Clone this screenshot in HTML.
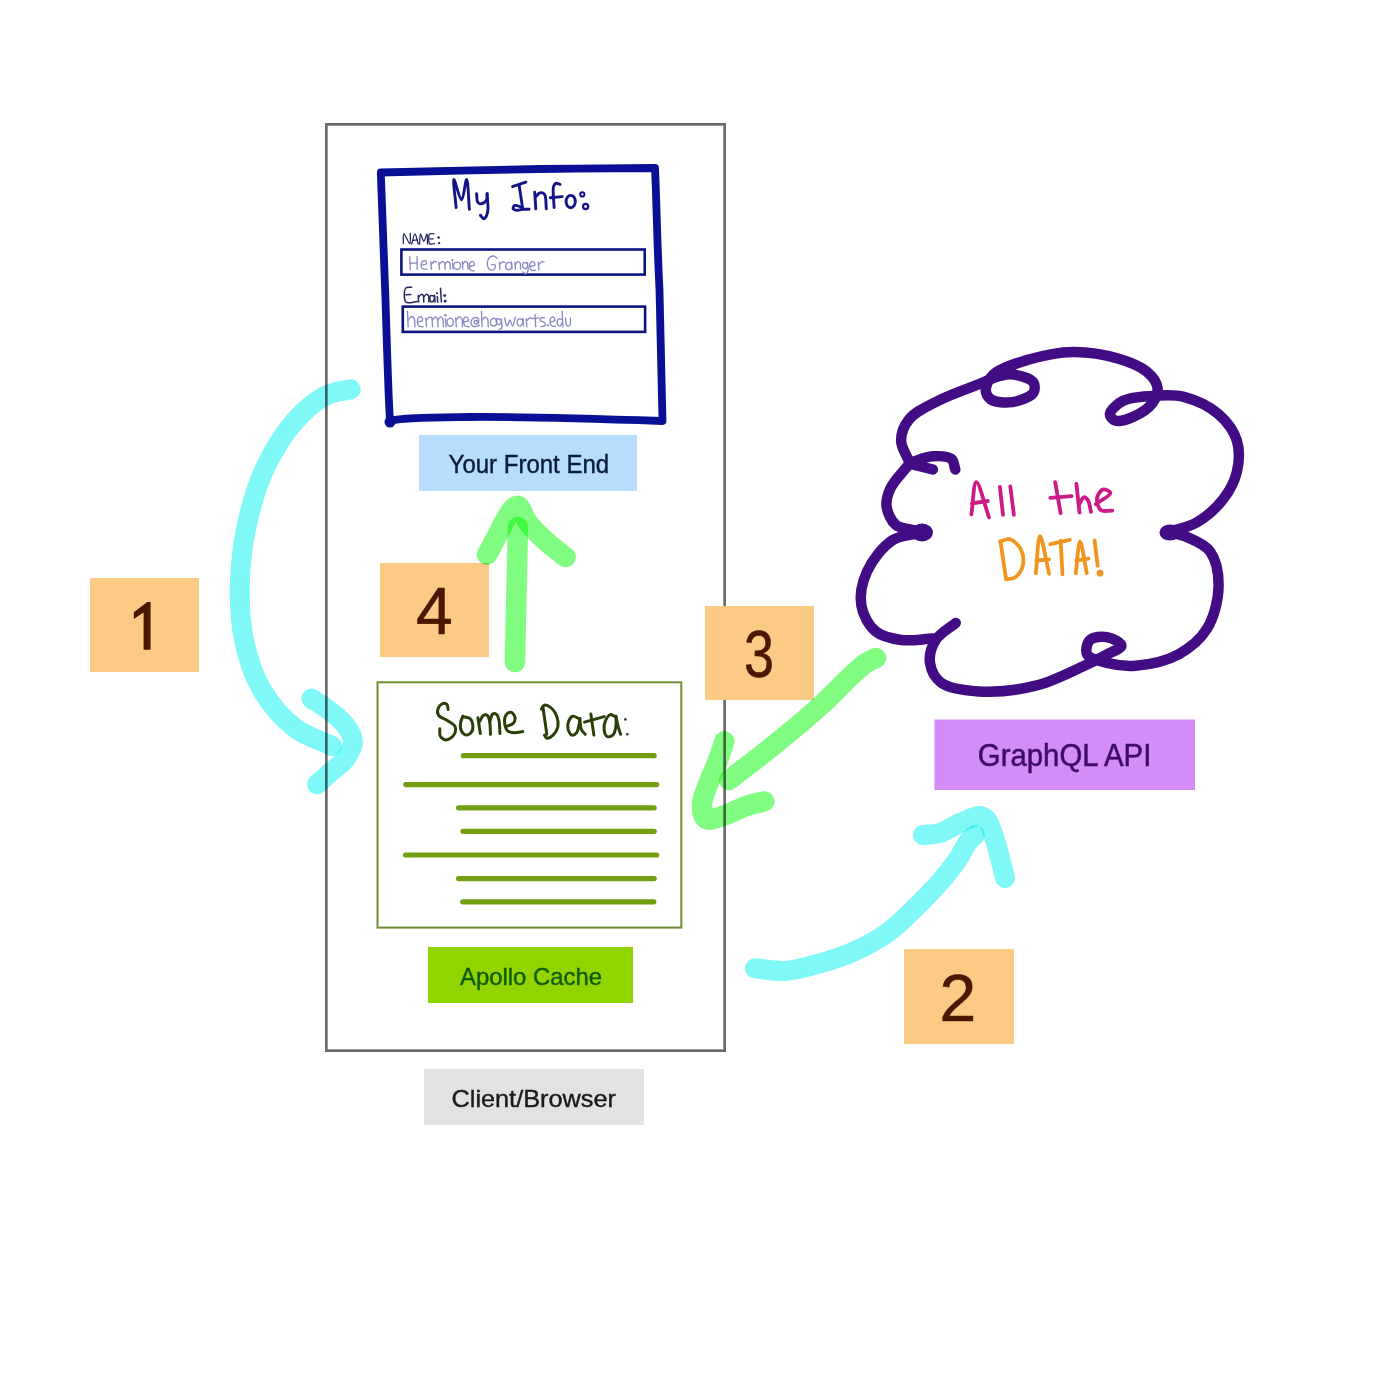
<!DOCTYPE html>
<html>
<head>
<meta charset="utf-8">
<style>
html,body{margin:0;padding:0;background:#ffffff;}
body{width:1400px;height:1400px;overflow:hidden;}
svg{display:block;}
text{font-family:"Liberation Sans", sans-serif;}
</style>
</head>
<body>
<svg width="1400" height="1400" viewBox="0 0 1400 1400">
<rect x="0" y="0" width="1400" height="1400" fill="#ffffff"/>
<rect x="326.35" y="124.35" width="398.3" height="926.3" fill="none" stroke="#6b6b6b" stroke-width="2.7"/>

<rect x="419" y="435" width="218" height="56" fill="#b8dcfc"/>
<text x="448.6" y="472.9" font-size="25" fill="#0b1a3f" stroke="#0b1a3f" stroke-width="0.4" textLength="160.5" lengthAdjust="spacingAndGlyphs">Your Front End</text>
<rect x="428" y="947" width="205" height="56" fill="#92d400"/>
<text x="460" y="984.7" font-size="24" fill="#0e5c0e" stroke="#0e5c0e" stroke-width="0.4" textLength="142" lengthAdjust="spacingAndGlyphs">Apollo Cache</text>
<rect x="424" y="1069" width="220" height="56" fill="#e2e2e2"/>
<text x="451.5" y="1106.8" font-size="24.5" fill="#1a1a1a" stroke="#1a1a1a" stroke-width="0.4" textLength="164.4" lengthAdjust="spacingAndGlyphs">Client/Browser</text>
<rect x="934.5" y="719.5" width="260.5" height="70.5" fill="#d38cf8"/>
<text x="977.8" y="766.1" font-size="32" fill="#3e0a66" stroke="#3e0a66" stroke-width="0.5" textLength="173.5" lengthAdjust="spacingAndGlyphs">GraphQL API</text>


<rect x="90" y="578" width="109" height="94" fill="#fbcb86"/>
<rect x="380" y="563" width="109" height="94" fill="#fbcb86"/>
<rect x="705" y="606" width="109" height="94" fill="#fbcb86"/>
<rect x="904" y="949" width="110" height="95" fill="#fbcb86"/>
<path d="M143.6,649.7 L150.6,649.7 L150.6,602.1 L147.2,602.1 L133.8,612.3 L133.8,619 L143.6,612.6 Z" fill="#4a1800"/>
<g font-size="66" fill="#4a1800" stroke="#4a1800" stroke-width="0.6">
<text x="416" y="634">4</text>
<text x="744" y="677" textLength="30" lengthAdjust="spacingAndGlyphs">3</text>
<text x="939.5" y="1020.9">2</text>
</g>


<rect x="377.5" y="682.3" width="303.8" height="245.3" fill="none" stroke="#6f8f2f" stroke-width="2"/>
<g stroke="#72a012" stroke-width="5.2" stroke-linecap="round">
<line x1="463.3" y1="755.7" x2="654.2" y2="755.7"/>
<line x1="405.8" y1="784.6" x2="656.7" y2="784.6"/>
<line x1="458.6" y1="807.8" x2="654.2" y2="807.8"/>
<line x1="463" y1="831.3" x2="654.2" y2="831.3"/>
<line x1="405.5" y1="855" x2="656.7" y2="855"/>
<line x1="458.6" y1="878.6" x2="654.2" y2="878.6"/>
<line x1="462.7" y1="901.8" x2="653.8" y2="901.8"/>
</g>

<g>
<path d="M448.1,709.5 C447.7,707.8 447.9,705.4 446.9,704.4 C446.0,703.5 443.9,703.1 442.6,703.6 C440.9,704.2 438.5,707.1 437.9,709.1 C437.3,711.0 437.4,713.6 438.6,715.4 C440.1,717.8 445.2,719.0 448.1,720.9 C450.7,722.6 454.0,724.2 455.1,726.4 C456.0,728.2 455.8,730.8 455.1,732.7 C454.3,734.7 452.2,737.0 450.4,738.2 C448.8,739.3 446.6,740.1 444.9,739.8 C443.2,739.4 441.1,737.6 440.2,735.9 C439.3,734.0 439.9,731.2 439.8,728.8" fill="none" stroke="#2a4008" stroke-width="3.0" stroke-linecap="round" stroke-linejoin="round"/>
<path d="M463.0,716.2 C462.2,718.3 460.9,720.2 460.6,722.5 C460.2,725.1 460.3,728.9 461.4,731.1 C462.4,732.9 464.4,734.9 466.1,735.1 C467.8,735.3 470.5,733.5 471.6,731.9 C472.8,730.2 473.1,727.1 472.8,724.9 C472.5,722.7 471.6,719.9 470.1,718.6 C468.7,717.4 466.0,717.4 464.6,717.0 C463.7,716.8 463.2,716.7 462.5,716.5" fill="none" stroke="#2a4008" stroke-width="3.0" stroke-linecap="round" stroke-linejoin="round"/>
<path d="M477.9,717.8 L480.3,733.5" fill="none" stroke="#2a4008" stroke-width="3.0" stroke-linecap="round" stroke-linejoin="round"/>
<path d="M479.5,721.7 C480.8,719.6 481.8,716.3 483.4,715.4 C484.6,714.7 486.4,714.7 487.4,715.4 C488.7,716.3 489.2,719.2 489.7,721.7 C490.4,725.1 490.2,730.1 490.5,734.3" fill="none" stroke="#2a4008" stroke-width="3.0" stroke-linecap="round" stroke-linejoin="round"/>
<path d="M489.7,721.7 C490.8,719.1 491.3,714.8 492.9,713.9 C494.0,713.3 495.8,713.8 496.8,714.6 C498.1,715.7 498.6,718.4 499.1,720.9 C499.8,724.3 499.6,729.3 499.9,733.5" fill="none" stroke="#2a4008" stroke-width="3.0" stroke-linecap="round" stroke-linejoin="round"/>
<path d="M506.2,726.4 C508.6,725.4 511.9,725.0 513.3,723.3 C514.6,721.8 515.3,718.9 514.9,717.0 C514.5,715.2 512.5,712.6 511.0,712.3 C509.6,712.0 507.3,713.2 506.2,714.6 C504.9,716.3 504.4,719.8 504.6,722.5 C504.8,725.3 505.9,729.4 507.8,731.1 C509.5,732.6 512.5,732.6 514.9,732.7 C517.4,732.8 520.1,731.9 522.7,731.5" fill="none" stroke="#2a4008" stroke-width="3.0" stroke-linecap="round" stroke-linejoin="round"/>
<path d="M542.9,706.8 L546.8,734.3" fill="none" stroke="#2a4008" stroke-width="3.0" stroke-linecap="round" stroke-linejoin="round"/>
<path d="M541.3,709.1 C542.3,707.8 543.0,705.6 544.4,705.2 C546.0,704.8 548.8,706.1 550.7,707.6 C553.2,709.5 555.8,713.6 557.0,717.0 C558.1,720.2 558.5,724.1 557.8,727.2 C557.1,730.1 555.1,733.2 553.1,735.1 C551.3,736.7 548.3,738.5 546.8,738.2 C545.7,737.9 545.2,736.1 544.4,735.1" fill="none" stroke="#2a4008" stroke-width="3.0" stroke-linecap="round" stroke-linejoin="round"/>
<path d="M579.0,718.6 C576.9,717.8 574.4,715.7 572.7,716.2 C571.1,716.6 569.6,719.0 568.8,720.9 C567.9,723.1 567.4,726.4 568.0,728.8 C568.5,731.1 570.3,734.7 571.9,735.1 C573.3,735.5 575.4,734.1 576.6,732.7 C578.0,731.0 578.5,727.4 579.0,724.9 C579.5,722.7 579.5,720.7 579.8,718.6" fill="none" stroke="#2a4008" stroke-width="3.0" stroke-linecap="round" stroke-linejoin="round"/>
<path d="M579.8,718.6 C580.3,722.3 580.2,726.8 581.4,729.6 C582.3,731.7 584.0,732.7 585.3,734.3" fill="none" stroke="#2a4008" stroke-width="3.0" stroke-linecap="round" stroke-linejoin="round"/>
<path d="M590.8,713.9 L593.9,735.1" fill="none" stroke="#2a4008" stroke-width="3.0" stroke-linecap="round" stroke-linejoin="round"/>
<path d="M584.5,722.1 L604.1,716.6" fill="none" stroke="#2a4008" stroke-width="3.0" stroke-linecap="round" stroke-linejoin="round"/>
<path d="M614.4,716.2 C613.1,715.7 611.7,714.3 610.4,714.6 C608.7,715.0 606.8,717.8 605.7,720.1 C604.5,722.7 603.7,726.7 604.1,729.6 C604.4,732.2 605.7,735.8 607.3,736.6 C608.7,737.3 611.4,736.4 612.8,735.1 C614.6,733.5 615.4,729.5 615.9,726.4 C616.5,723.2 615.9,719.6 615.9,716.2" fill="none" stroke="#2a4008" stroke-width="3.0" stroke-linecap="round" stroke-linejoin="round"/>
<path d="M615.9,716.2 C616.7,719.9 617.4,724.0 618.3,727.2 C619.0,729.8 619.8,731.9 620.6,734.3" fill="none" stroke="#2a4008" stroke-width="3.0" stroke-linecap="round" stroke-linejoin="round"/>
<circle cx="625.4" cy="719.4" r="1.3" fill="#2a4008"/><circle cx="627.3" cy="734.3" r="1.3" fill="#2a4008"/>
</g>
<path d="M380.8,172.5 C420,171.5 500,169.5 540,169 S630,168 655,168 C656.5,200 657,240 659.5,290 C660.5,330 661,370 662.5,421 C600,419 520,416.5 470,417 C430,417.5 400,417.5 390,421 C388.5,400 387,350 385.5,300 C384,250 382,200 380.8,172.5 Z" fill="none" stroke="#0a1096" stroke-width="7.8" stroke-linejoin="round"/>
<circle cx="390" cy="422" r="5.5" fill="#0a1096"/>
<rect x="401.4" y="249.5" width="243.3" height="25.1" fill="none" stroke="#0c1480" stroke-width="2.6"/>
<rect x="402.8" y="306.6" width="242.3" height="25.3" fill="none" stroke="#0c1480" stroke-width="2.6"/>
<g transform="translate(395,225) scale(0.09285)" fill="none" stroke="#262660" stroke-width="14.00" stroke-linecap="round" stroke-linejoin="round">
<path d="M90.0,200.0 C91.7,165.0 84.5,97.7 95.0,95.0 C106.3,92.1 148.6,203.0 160.0,200.0 C170.8,197.2 163.3,126.7 165.0,90.0"/>
<path d="M180.0,205.0 C191.7,168.3 203.3,95.0 215.0,95.0 C226.7,95.0 238.3,168.3 250.0,205.0"/>
<path d="M195.0,165.0 L240.0,160.0"/>
<path d="M265.0,205.0 C268.3,168.3 266.5,96.4 275.0,95.0 C282.6,93.8 298.3,175.0 310.0,175.0 C321.7,175.0 338.1,93.7 345.0,95.0 C352.7,96.4 348.3,168.3 350.0,205.0"/>
<path d="M420.0,95.0 C404.0,96.0 381.3,87.8 372.0,98.0 C358.1,113.2 360.2,191.9 375.0,205.0 C385.2,213.9 408.3,201.7 425.0,200.0"/>
<path d="M375.0,150.0 L410.0,150.0"/>
<circle cx="470" cy="135" r="13" fill="#262660" stroke="none"/>
<circle cx="475" cy="195" r="13" fill="#262660" stroke="none"/>
</g>
<g transform="translate(395,225) scale(0.09285)" fill="none" stroke="#262660" stroke-width="16.16" stroke-linecap="round" stroke-linejoin="round">
<path d="M180.0,670.0 C158.3,673.3 127.8,664.8 115.0,680.0 C95.7,702.9 93.8,807.3 118.0,830.0 C139.8,850.5 199.3,826.7 240.0,825.0"/>
<path d="M118.0,750.0 L170.0,748.0"/>
<path d="M250.0,760.0 L255.0,830.0"/>
<path d="M255.0,775.0 C265.0,765.0 275.7,745.7 285.0,745.0 C292.1,744.5 300.5,751.7 305.0,760.0 C312.6,774.0 308.3,806.7 310.0,830.0"/>
<path d="M310.0,775.0 C320.0,765.0 330.7,745.7 340.0,745.0 C347.1,744.5 355.5,751.7 360.0,760.0 C367.6,774.0 363.3,806.7 365.0,830.0"/>
<path d="M420.0,765.0 C408.3,763.3 392.5,754.9 385.0,760.0 C376.9,765.5 372.9,788.0 375.0,800.0 C376.9,811.2 387.2,828.8 395.0,830.0 C402.3,831.1 414.8,819.6 420.0,810.0 C426.5,798.0 423.3,776.7 425.0,760.0"/>
<path d="M425.0,760.0 L432.0,830.0"/>
<path d="M455.0,770.0 L460.0,830.0"/>
<path d="M490.0,680.0 L500.0,830.0"/>
<circle cx="452" cy="735" r="12" fill="#262660" stroke="none"/>
<circle cx="535" cy="760" r="15" fill="#262660" stroke="none"/>
<circle cx="540" cy="820" r="15" fill="#262660" stroke="none"/>
</g>
<g transform="translate(400,248) scale(0.11429)" fill="none" stroke="#8a8ac4" stroke-width="11.81" stroke-linecap="round" stroke-linejoin="round">
<path d="M85.0,75.0 L90.0,190.0"/>
<path d="M150.0,75.0 L150.0,185.0"/>
<path d="M90.0,135.0 L150.0,130.0"/>
<path d="M185.0,150.0 C200.0,146.7 224.9,147.8 230.0,140.0 C233.8,134.2 230.1,119.1 225.0,115.0 C220.0,110.9 206.5,111.0 200.0,115.0 C192.5,119.6 186.0,134.4 185.0,145.0 C184.0,156.0 187.1,173.2 195.0,180.0 C203.3,187.1 221.7,183.3 235.0,185.0"/>
<path d="M270.0,120.0 L275.0,185.0"/>
<path d="M275.0,140.0 C283.3,132.7 291.5,120.7 300.0,118.0 C306.6,115.9 313.3,119.3 320.0,120.0"/>
<path d="M340.0,125.0 L345.0,185.0"/>
<path d="M345.0,140.0 C353.3,132.7 361.9,118.7 370.0,118.0 C376.8,117.4 385.5,122.9 390.0,130.0 C396.9,141.0 393.3,166.7 395.0,185.0"/>
<path d="M395.0,140.0 C401.7,132.7 407.9,119.0 415.0,118.0 C421.3,117.1 430.5,122.9 435.0,130.0 C441.9,141.0 438.3,166.7 440.0,185.0"/>
<path d="M460.0,130.0 L465.0,185.0"/>
<path d="M500.0,123.0 C491.7,127.0 479.5,127.8 475.0,135.0 C469.5,143.7 469.6,166.1 475.0,175.0 C479.5,182.5 491.7,188.0 500.0,188.0 C508.3,188.0 520.5,182.5 525.0,175.0 C530.4,166.1 530.5,143.7 525.0,135.0 C520.5,127.8 508.3,127.0 500.0,123.0"/>
<path d="M545.0,120.0 L550.0,185.0"/>
<path d="M550.0,140.0 C556.7,132.7 562.9,119.0 570.0,118.0 C576.3,117.1 585.5,122.9 590.0,130.0 C596.9,141.0 593.3,166.7 595.0,185.0"/>
<path d="M610.0,160.0 C623.3,156.7 645.8,157.6 650.0,150.0 C653.7,143.3 646.5,123.8 640.0,120.0 C634.2,116.6 620.8,119.6 615.0,125.0 C608.1,131.4 604.3,148.5 605.0,160.0 C605.7,171.8 611.7,188.5 620.0,195.0 C627.4,200.8 640.0,198.3 650.0,200.0"/>
<path d="M850.0,90.0 C840.0,83.3 831.1,71.3 820.0,70.0 C807.9,68.6 789.2,75.0 780.0,85.0 C769.4,96.6 764.5,122.7 765.0,140.0 C765.4,155.8 770.1,176.9 780.0,185.0 C789.1,192.5 810.8,195.5 820.0,190.0 C829.4,184.3 839.3,157.3 835.0,150.0 C831.1,143.3 811.7,146.7 800.0,145.0"/>
<path d="M870.0,125.0 L875.0,185.0"/>
<path d="M875.0,140.0 C883.3,133.3 892.4,121.4 900.0,120.0 C905.4,119.0 910.0,123.3 915.0,125.0"/>
<path d="M970.0,130.0 C958.3,130.0 942.5,124.1 935.0,130.0 C926.8,136.4 921.5,159.7 925.0,170.0 C928.1,179.0 941.7,190.0 950.0,190.0 C958.3,190.0 970.5,179.4 975.0,170.0 C980.4,158.8 975.0,140.0 975.0,125.0"/>
<path d="M975.0,125.0 L980.0,185.0"/>
<path d="M1005.0,125.0 L1010.0,185.0"/>
<path d="M1010.0,145.0 C1016.7,136.7 1022.6,121.6 1030.0,120.0 C1036.2,118.6 1045.5,123.4 1050.0,130.0 C1057.1,140.3 1053.3,166.7 1055.0,185.0"/>
<path d="M1110.0,130.0 C1100.0,130.0 1085.9,124.8 1080.0,130.0 C1073.6,135.6 1071.0,156.6 1075.0,165.0 C1078.6,172.7 1093.2,181.3 1100.0,180.0 C1106.3,178.8 1112.4,167.8 1115.0,160.0 C1117.9,151.4 1115.0,140.0 1115.0,130.0"/>
<path d="M1115.0,130.0 C1116.7,153.3 1125.2,183.2 1120.0,200.0 C1116.5,211.3 1107.7,223.6 1100.0,225.0 C1092.6,226.3 1083.3,215.0 1075.0,210.0"/>
<path d="M1140.0,160.0 C1153.3,156.7 1175.8,157.6 1180.0,150.0 C1183.7,143.3 1176.5,123.8 1170.0,120.0 C1164.2,116.6 1150.8,119.6 1145.0,125.0 C1138.1,131.4 1134.3,148.5 1135.0,160.0 C1135.7,171.8 1141.3,189.3 1150.0,195.0 C1158.3,200.5 1173.3,195.0 1185.0,195.0"/>
<path d="M1210.0,125.0 L1215.0,190.0"/>
<path d="M1215.0,145.0 C1223.3,136.7 1231.4,123.1 1240.0,120.0 C1246.5,117.7 1253.3,121.3 1260.0,122.0"/>
<circle cx="458" cy="105" r="10" fill="#8a8ac4" stroke="none"/>
</g>
<g transform="translate(400,305) scale(0.13572)" fill="none" stroke="#8a8ac4" stroke-width="9.95" stroke-linecap="round" stroke-linejoin="round">
<path d="M55.0,45.0 L60.0,160.0"/>
<path d="M60.0,110.0 C68.3,101.7 76.9,85.6 85.0,85.0 C91.8,84.5 100.5,91.9 105.0,100.0 C111.9,112.6 108.3,140.0 110.0,160.0"/>
<path d="M130.0,125.0 C141.7,121.7 160.8,121.9 165.0,115.0 C168.5,109.2 164.8,93.9 160.0,90.0 C155.8,86.5 145.1,86.5 140.0,90.0 C133.5,94.4 128.3,109.6 128.0,120.0 C127.7,131.2 132.3,148.5 140.0,155.0 C147.0,160.9 160.0,158.3 170.0,160.0"/>
<path d="M190.0,95.0 L195.0,160.0"/>
<path d="M195.0,110.0 C201.7,103.3 208.2,92.3 215.0,90.0 C219.9,88.3 225.0,91.3 230.0,92.0"/>
<path d="M235.0,95.0 L240.0,160.0"/>
<path d="M240.0,110.0 C246.7,102.7 253.6,88.5 260.0,88.0 C265.2,87.6 271.5,93.4 275.0,100.0 C281.3,111.7 278.3,140.0 280.0,160.0"/>
<path d="M280.0,110.0 C286.7,102.7 293.6,88.5 300.0,88.0 C305.2,87.6 311.5,93.4 315.0,100.0 C321.3,111.7 318.3,140.0 320.0,160.0"/>
<path d="M335.0,100.0 L340.0,160.0"/>
<path d="M370.0,95.0 C363.3,100.0 353.6,102.8 350.0,110.0 C345.7,118.6 345.6,136.8 350.0,145.0 C353.7,151.7 363.3,158.0 370.0,158.0 C376.7,158.0 386.3,151.7 390.0,145.0 C394.4,136.8 394.3,118.6 390.0,110.0 C386.4,102.8 376.7,100.0 370.0,95.0"/>
<path d="M410.0,95.0 L415.0,160.0"/>
<path d="M415.0,110.0 C421.7,102.7 427.9,89.0 435.0,88.0 C441.3,87.1 450.5,92.8 455.0,100.0 C462.2,111.6 458.3,140.0 460.0,160.0"/>
<path d="M470.0,125.0 C481.7,121.7 501.7,121.8 505.0,115.0 C507.8,109.2 500.7,93.4 495.0,90.0 C490.1,87.0 479.5,87.9 475.0,92.0 C469.1,97.3 467.1,114.4 468.0,125.0 C468.9,135.4 472.8,149.2 480.0,155.0 C487.0,160.6 500.0,158.3 510.0,160.0"/>
<path d="M575.0,140.0 C576.7,128.3 584.1,113.1 580.0,105.0 C576.3,97.8 563.4,91.5 555.0,92.0 C546.0,92.5 533.1,101.4 528.0,110.0 C522.7,118.9 520.7,136.6 525.0,145.0 C528.9,152.7 540.7,158.8 550.0,160.0 C560.4,161.4 573.3,153.3 585.0,150.0"/>
<path d="M570.0,115.0 C564.0,115.0 555.7,112.0 552.0,115.0 C548.1,118.2 545.5,130.9 548.0,135.0 C550.3,138.9 561.0,142.1 565.0,140.0 C569.5,137.6 569.7,125.3 572.0,118.0"/>
<path d="M600.0,45.0 L605.0,160.0"/>
<path d="M605.0,110.0 C611.7,103.3 617.9,91.2 625.0,90.0 C631.3,89.0 640.5,93.3 645.0,100.0 C652.4,111.0 648.3,140.0 650.0,160.0"/>
<path d="M690.0,97.0 C683.3,101.3 673.7,103.3 670.0,110.0 C665.6,118.2 665.4,137.5 670.0,145.0 C673.7,151.0 683.3,155.0 690.0,155.0 C696.7,155.0 706.3,151.0 710.0,145.0 C714.6,137.5 714.4,118.2 710.0,110.0 C706.3,103.3 696.7,101.3 690.0,97.0"/>
<path d="M740.0,110.0 C731.7,106.7 720.1,97.2 715.0,100.0 C709.6,103.0 706.9,122.4 710.0,130.0 C712.8,136.9 724.2,145.8 730.0,145.0 C735.8,144.2 740.0,131.7 745.0,125.0"/>
<path d="M745.0,100.0 C746.7,123.3 756.9,157.8 750.0,170.0 C746.1,176.9 736.7,176.7 730.0,180.0"/>
<path d="M770.0,95.0 C776.7,115.0 782.9,154.7 790.0,155.0 C796.3,155.3 803.3,110.0 810.0,110.0 C816.7,110.0 823.8,155.4 830.0,155.0 C837.3,154.6 843.3,111.7 850.0,90.0"/>
<path d="M900.0,105.0 C890.0,105.0 875.9,99.8 870.0,105.0 C863.6,110.6 861.5,131.4 865.0,140.0 C868.0,147.2 878.7,155.8 885.0,155.0 C892.1,154.1 901.7,139.3 905.0,130.0 C908.2,121.0 905.0,110.0 905.0,100.0"/>
<path d="M905.0,100.0 L910.0,155.0"/>
<path d="M930.0,100.0 L935.0,160.0"/>
<path d="M935.0,115.0 C941.7,108.3 948.2,97.3 955.0,95.0 C959.9,93.3 965.0,96.3 970.0,97.0"/>
<path d="M995.0,70.0 L1000.0,160.0"/>
<path d="M975.0,100.0 L1025.0,95.0"/>
<path d="M1065.0,95.0 C1056.7,95.0 1044.9,91.2 1040.0,95.0 C1035.5,98.5 1032.5,109.5 1035.0,115.0 C1038.2,122.0 1059.4,123.0 1065.0,130.0 C1069.4,135.5 1072.7,145.1 1070.0,150.0 C1066.7,156.1 1050.0,156.7 1040.0,160.0"/>
<path d="M1110.0,125.0 C1120.0,121.7 1136.4,121.3 1140.0,115.0 C1143.1,109.6 1139.6,95.7 1135.0,92.0 C1130.8,88.6 1119.9,88.4 1115.0,92.0 C1108.6,96.8 1104.1,114.4 1105.0,125.0 C1105.9,135.4 1112.5,149.7 1120.0,155.0 C1126.5,159.6 1136.7,157.0 1145.0,158.0"/>
<path d="M1190.0,105.0 C1181.7,105.0 1170.2,100.5 1165.0,105.0 C1158.9,110.3 1156.5,131.4 1160.0,140.0 C1163.0,147.2 1174.3,156.1 1180.0,155.0 C1186.1,153.8 1190.0,138.3 1195.0,130.0"/>
<path d="M1195.0,45.0 L1200.0,160.0"/>
<path d="M1220.0,95.0 C1221.7,111.7 1219.5,134.3 1225.0,145.0 C1228.5,151.7 1235.2,158.4 1240.0,158.0 C1245.2,157.6 1252.1,148.0 1255.0,140.0 C1259.0,128.9 1255.0,110.0 1255.0,95.0"/>
<circle cx="335" cy="75" r="9" fill="#8a8ac4" stroke="none"/>
<circle cx="1090" cy="150" r="9" fill="#8a8ac4" stroke="none"/>
</g>
<path d="M456.1,207.6 C455.4,198.2 452.7,179.7 453.9,179.4 C455.0,179.2 459.5,200.0 461.6,199.9 C463.7,199.8 465.3,179.3 466.6,179.4 C468.1,179.5 468.5,199.3 469.4,209.3" fill="none" stroke="#141488" stroke-width="2.9" stroke-linecap="round" stroke-linejoin="round"/>
<path d="M476.6,193.8 C477.0,196.6 476.5,200.5 477.7,202.1 C478.5,203.2 480.2,204.0 481.5,203.8 C483.1,203.6 485.6,201.6 486.5,199.9 C487.4,198.2 486.9,195.8 487.1,193.8" fill="none" stroke="#141488" stroke-width="2.9" stroke-linecap="round" stroke-linejoin="round"/>
<path d="M487.1,193.8 C487.3,199.9 488.7,207.6 487.6,212.1 C486.9,215.0 485.2,218.5 483.8,218.7 C482.7,218.9 481.5,216.5 480.4,215.4" fill="none" stroke="#141488" stroke-width="2.9" stroke-linecap="round" stroke-linejoin="round"/>
<path d="M512.5,186.6 L525.8,182.2" fill="none" stroke="#141488" stroke-width="2.9" stroke-linecap="round" stroke-linejoin="round"/>
<path d="M519.2,185.5 L522.5,207.6" fill="none" stroke="#141488" stroke-width="2.9" stroke-linecap="round" stroke-linejoin="round"/>
<path d="M522.5,207.6 C519.9,206.9 516.2,204.7 514.7,205.4 C513.7,205.9 512.8,208.0 513.1,208.8 C513.4,209.6 515.1,210.2 516.4,210.4 C518.1,210.6 520.4,209.5 522.5,209.3 C524.6,209.1 526.9,209.3 529.1,209.3" fill="none" stroke="#141488" stroke-width="2.9" stroke-linecap="round" stroke-linejoin="round"/>
<path d="M534.7,192.1 L535.8,208.8" fill="none" stroke="#141488" stroke-width="2.9" stroke-linecap="round" stroke-linejoin="round"/>
<path d="M535.8,196.6 C537.3,195.3 538.6,193.0 540.2,192.7 C541.6,192.4 543.5,193.0 544.6,194.4 C546.4,196.8 545.7,204.0 546.3,208.8" fill="none" stroke="#141488" stroke-width="2.9" stroke-linecap="round" stroke-linejoin="round"/>
<path d="M560.1,184.4 C558.6,184.0 556.8,182.9 555.7,183.3 C554.7,183.7 554.0,184.9 553.5,186.6 C552.4,190.5 553.9,200.6 554.1,207.6" fill="none" stroke="#141488" stroke-width="2.9" stroke-linecap="round" stroke-linejoin="round"/>
<path d="M550.2,197.7 L562.3,196.6" fill="none" stroke="#141488" stroke-width="2.9" stroke-linecap="round" stroke-linejoin="round"/>
<ellipse cx="570.7" cy="201.6" rx="4.6" ry="6.2" fill="none" stroke="#141488" stroke-width="2.9"/>
<circle cx="582.3" cy="194.4" r="2.1" fill="none" stroke="#141488" stroke-width="2"/><circle cx="585.6" cy="206.5" r="2.6" fill="none" stroke="#141488" stroke-width="2.2"/>
<path d="M909.1,461.6 C906.4,454.5 901.1,447.5 901.1,440.4 C901.1,433.4 904.1,425.4 909.1,419.3 C915.2,411.7 927.2,406.4 938.1,400.8 C950.6,394.3 969.0,388.1 980.4,383.6 C988.2,380.5 994.2,377.5 1000.0,376.0 C1004.4,374.9 1007.6,373.9 1012.1,374.4 C1018.3,375.1 1030.4,378.2 1033.3,382.3 C1035.3,385.1 1035.2,390.0 1033.3,392.9 C1030.4,397.2 1019.3,401.1 1012.1,402.1 C1005.2,403.1 995.4,402.4 991.0,399.5 C987.9,397.4 985.8,393.7 985.7,390.2 C985.6,385.7 988.8,378.9 993.6,374.4 C1000.5,367.9 1015.5,363.5 1028.0,359.8 C1041.8,355.7 1057.9,352.1 1072.9,351.9 C1087.8,351.7 1104.7,354.6 1117.8,358.5 C1128.8,361.7 1140.1,365.9 1146.9,371.7 C1152.2,376.2 1156.8,382.1 1157.5,387.6 C1158.2,392.7 1155.6,398.8 1152.2,403.4 C1148.2,408.7 1140.2,413.7 1133.7,416.6 C1127.8,419.2 1119.3,422.0 1115.2,420.6 C1112.5,419.6 1109.8,416.5 1109.9,414.0 C1110.1,410.3 1117.0,403.9 1123.1,400.8 C1131.4,396.6 1146.8,396.1 1157.5,395.5 C1166.9,395.0 1174.8,394.4 1183.9,396.8 C1194.9,399.7 1209.3,406.2 1218.3,414.0 C1226.5,421.1 1233.7,430.7 1236.8,440.4 C1239.8,450.1 1239.1,462.3 1236.8,472.1 C1234.6,481.6 1229.7,490.5 1223.6,498.6 C1216.9,507.4 1206.5,516.7 1197.1,522.3 C1188.8,527.2 1179.5,528.5 1170.7,531.6" fill="none" stroke="#420c84" stroke-width="10.5" stroke-linecap="round" stroke-linejoin="round"/>
<path d="M909.1,462.9 C917.0,460.7 925.4,456.8 932.9,456.3 C939.4,455.9 947.8,456.0 951.4,458.9 C954.2,461.2 954.0,466.0 955.3,469.5" fill="none" stroke="#420c84" stroke-width="10.5" stroke-linecap="round" stroke-linejoin="round"/>
<path d="M911.7,464.2 L932.9,469.5" fill="none" stroke="#420c84" stroke-width="10.5" stroke-linecap="round" stroke-linejoin="round"/>
<path d="M909.1,464.2 C902.9,472.1 894.3,480.2 890.6,488.0 C887.7,494.2 885.8,500.5 886.6,506.5 C887.4,512.8 891.1,521.0 895.9,525.0 C900.5,528.8 909.7,528.8 914.4,530.3 C917.3,531.3 919.1,532.0 921.4,532.9" fill="none" stroke="#420c84" stroke-width="10.5" stroke-linecap="round" stroke-linejoin="round"/>
<path d="M921.4,532.9 C911.9,535.3 901.4,534.6 892.9,540.0 C882.9,546.3 872.3,559.9 867.1,571.4 C862.3,582.0 859.6,595.4 861.4,605.7 C863.0,615.2 868.8,625.7 875.7,631.4 C882.3,636.9 892.3,638.7 901.4,640.0 C911.2,641.4 922.4,639.1 932.9,638.6" fill="none" stroke="#420c84" stroke-width="10.5" stroke-linecap="round" stroke-linejoin="round"/>
<path d="M955.7,622.9 C949.0,628.6 940.0,633.1 935.7,640.0 C931.7,646.5 929.0,655.7 930.0,662.9 C931.0,670.0 935.1,678.2 941.4,682.9 C949.6,689.0 964.8,690.5 978.6,691.4 C995.5,692.5 1017.7,690.2 1035.7,685.7 C1052.9,681.4 1071.2,671.7 1084.3,665.7 C1093.4,661.6 1100.4,658.0 1107.1,654.3 C1112.5,651.3 1121.4,648.6 1121.4,645.7 C1121.4,642.8 1112.3,638.1 1107.1,637.1 C1101.8,636.1 1093.3,636.8 1090.0,640.0 C1087.0,642.9 1085.2,650.6 1087.1,654.3 C1089.5,658.8 1099.7,661.0 1107.1,662.9 C1115.6,665.1 1125.3,666.5 1135.7,665.7 C1148.6,664.6 1166.4,660.9 1178.6,654.3 C1189.9,648.2 1200.5,639.4 1207.1,628.6 C1214.2,616.9 1218.5,599.2 1218.6,585.7 C1218.7,573.6 1216.0,559.6 1210.0,551.4 C1204.8,544.2 1194.7,540.5 1187.1,537.1 C1180.4,534.1 1173.8,533.3 1167.1,531.4" fill="none" stroke="#420c84" stroke-width="10.5" stroke-linecap="round" stroke-linejoin="round"/>
<ellipse cx="922" cy="532.5" rx="11" ry="9" fill="#420c84"/>
<ellipse cx="1170" cy="532.5" rx="10.5" ry="8" fill="#420c84"/>
<path d="M971.4,514.3 C973.0,503.6 973.6,482.4 976.3,482.1 C979.2,481.8 984.8,505.6 989.0,517.4" fill="none" stroke="#cc1a86" stroke-width="3.8" stroke-linecap="round" stroke-linejoin="round"/>
<path d="M972.0,503.4 L987.8,501.0" fill="none" stroke="#cc1a86" stroke-width="3.8" stroke-linecap="round" stroke-linejoin="round"/>
<path d="M999.9,487.0 L1003.0,514.9" fill="none" stroke="#cc1a86" stroke-width="3.8" stroke-linecap="round" stroke-linejoin="round"/>
<path d="M1010.3,486.4 L1013.9,514.9" fill="none" stroke="#cc1a86" stroke-width="3.8" stroke-linecap="round" stroke-linejoin="round"/>
<path d="M1055.2,482.1 L1060.6,513.1" fill="none" stroke="#cc1a86" stroke-width="3.8" stroke-linecap="round" stroke-linejoin="round"/>
<path d="M1050.3,497.9 L1071.6,496.1" fill="none" stroke="#cc1a86" stroke-width="3.8" stroke-linecap="round" stroke-linejoin="round"/>
<path d="M1076.4,484.0 L1079.5,512.5" fill="none" stroke="#cc1a86" stroke-width="3.8" stroke-linecap="round" stroke-linejoin="round"/>
<path d="M1079.5,504.0 C1080.9,501.8 1082.1,497.6 1083.7,497.3 C1085.0,497.0 1086.9,498.8 1088.0,500.4 C1089.7,502.9 1090.0,508.1 1091.0,511.9" fill="none" stroke="#cc1a86" stroke-width="3.8" stroke-linecap="round" stroke-linejoin="round"/>
<path d="M1095.9,504.0 C1100.7,500.4 1110.6,495.7 1110.4,493.1 C1110.3,491.4 1105.3,488.9 1103.2,489.4 C1100.8,490.0 1097.6,494.7 1097.1,497.9 C1096.5,501.5 1098.1,507.9 1100.7,510.0 C1103.2,512.0 1108.4,510.5 1112.3,510.7" fill="none" stroke="#cc1a86" stroke-width="3.8" stroke-linecap="round" stroke-linejoin="round"/>
<path d="M1000.5,541.6 L1006.0,578.7" fill="none" stroke="#f0961e" stroke-width="3.8" stroke-linecap="round" stroke-linejoin="round"/>
<path d="M999.9,541.6 C1003.1,540.8 1006.5,538.4 1009.6,539.2 C1013.4,540.1 1018.4,544.8 1020.6,548.9 C1022.9,553.2 1023.9,559.9 1023.0,564.7 C1022.1,569.2 1018.9,574.5 1015.7,576.9 C1013.0,578.9 1009.2,578.5 1006.0,579.3" fill="none" stroke="#f0961e" stroke-width="3.8" stroke-linecap="round" stroke-linejoin="round"/>
<path d="M1035.8,573.2 C1037.2,560.9 1037.8,536.3 1040.0,536.2 C1042.2,536.1 1046.1,561.3 1049.1,573.8" fill="none" stroke="#f0961e" stroke-width="3.8" stroke-linecap="round" stroke-linejoin="round"/>
<path d="M1036.4,560.5 L1049.1,559.3" fill="none" stroke="#f0961e" stroke-width="3.8" stroke-linecap="round" stroke-linejoin="round"/>
<path d="M1050.3,544.1 L1069.8,539.8" fill="none" stroke="#f0961e" stroke-width="3.8" stroke-linecap="round" stroke-linejoin="round"/>
<path d="M1060.6,541.0 L1062.5,574.4" fill="none" stroke="#f0961e" stroke-width="3.8" stroke-linecap="round" stroke-linejoin="round"/>
<path d="M1075.8,573.2 C1077.2,562.7 1078.3,541.7 1080.1,541.6 C1081.9,541.5 1084.6,562.7 1086.8,573.2" fill="none" stroke="#f0961e" stroke-width="3.8" stroke-linecap="round" stroke-linejoin="round"/>
<path d="M1076.4,560.5 L1088.6,558.6" fill="none" stroke="#f0961e" stroke-width="3.8" stroke-linecap="round" stroke-linejoin="round"/>
<path d="M1094.6,540.4 L1097.7,565.9" fill="none" stroke="#f0961e" stroke-width="3.8" stroke-linecap="round" stroke-linejoin="round"/>
<circle cx="1100.1" cy="573.2" r="3.4" fill="#f0961e"/>
<path d="M350.7,389.3 C342.5,391.4 334.2,391.3 326.0,395.5 C315.7,400.7 304.4,410.4 295.0,421.0 C284.1,433.2 273.8,449.8 266.0,466.0 C258.0,482.7 252.3,501.3 248.0,520.0 C243.5,539.3 240.7,560.0 240.0,580.0 C239.3,600.0 240.1,621.2 244.0,640.0 C247.7,657.7 253.3,675.2 262.0,690.0 C270.5,704.4 282.6,718.5 295.0,728.0 C306.2,736.6 319.7,740.0 332.0,746.0" fill="none" stroke="#80f8f8" stroke-width="20" stroke-linecap="round" stroke-linejoin="round" style="mix-blend-mode:multiply"/>
<path d="M311.4,698.6 C317.1,702.4 323.0,705.6 328.6,710.0 C334.5,714.6 341.6,720.0 345.7,725.7 C349.3,730.6 352.8,736.0 352.9,741.4 C353.0,747.0 349.2,753.6 345.7,758.6 C342.1,763.6 336.2,767.1 331.4,771.4 C326.6,775.7 321.9,780.0 317.1,784.3" fill="none" stroke="#80f8f8" stroke-width="20" stroke-linecap="round" stroke-linejoin="round" style="mix-blend-mode:multiply"/>
<path d="M754.9,968.3 C765.2,969.2 775.2,971.6 785.7,970.9 C796.9,970.2 808.7,966.6 820.0,963.4 C831.5,960.1 843.1,956.5 854.3,951.4 C866.0,946.1 877.8,939.8 888.6,932.0 C899.8,923.8 910.8,912.0 920.0,903.0 C927.5,895.6 933.7,889.3 940.0,882.0 C946.3,874.7 953.1,866.2 958.0,859.0 C962.1,853.0 964.7,846.3 968.0,842.0 C970.3,839.0 972.7,837.3 975.0,835.0" fill="none" stroke="#80f8f8" stroke-width="20" stroke-linecap="round" stroke-linejoin="round" style="mix-blend-mode:multiply"/>
<path d="M923.0,835.0 C928.7,834.3 934.3,834.7 940.0,833.0 C946.6,831.0 953.2,825.9 960.0,823.0 C966.6,820.2 975.1,815.6 980.0,816.0 C983.0,816.3 984.9,817.6 987.0,820.0 C990.4,823.9 992.4,832.2 995.0,840.0 C998.5,850.6 1001.7,865.3 1005.0,878.0" fill="none" stroke="#80f8f8" stroke-width="20" stroke-linecap="round" stroke-linejoin="round" style="mix-blend-mode:multiply"/>
<path d="M515.0,662.1 C515.5,639.5 515.9,616.8 516.4,594.3 C516.9,571.9 517.4,549.5 517.9,527.1" fill="none" stroke="#80fc80" stroke-width="20.5" stroke-linecap="round" stroke-linejoin="round" style="mix-blend-mode:multiply"/>
<path d="M487.0,554.6 C497.0,538.3 509.7,505.8 517.1,505.7 C521.3,505.7 523.3,516.4 527.1,521.4 C530.9,526.4 535.6,531.3 540.0,535.7 C544.2,539.8 548.6,543.5 552.9,547.1 C557.1,550.6 561.4,553.8 565.7,557.1" fill="none" stroke="#80fc80" stroke-width="20.5" stroke-linecap="round" stroke-linejoin="round" style="mix-blend-mode:multiply"/>
<path d="M876.0,658.0 C872.7,659.7 869.5,660.7 866.0,663.0 C861.6,666.0 857.6,669.9 852.0,675.0 C843.0,683.2 830.3,696.9 818.0,708.0 C804.5,720.2 788.9,733.0 774.0,745.0 C759.2,757.0 744.0,768.3 729.0,780.0" fill="none" stroke="#80fc80" stroke-width="20.5" stroke-linecap="round" stroke-linejoin="round" style="mix-blend-mode:multiply"/>
<path d="M724.3,741.4 C721.9,748.6 719.7,756.0 717.0,763.0 C714.4,769.8 711.1,776.1 708.6,782.9 C706.1,789.8 702.2,797.8 702.0,804.3 C701.9,809.6 702.5,816.9 705.7,819.0 C709.2,821.2 716.8,817.8 722.9,816.0 C730.4,813.8 739.6,808.2 747.1,805.7 C753.2,803.6 758.6,802.8 764.3,801.4" fill="none" stroke="#80fc80" stroke-width="20.5" stroke-linecap="round" stroke-linejoin="round" style="mix-blend-mode:multiply"/>
</svg>
</body>
</html>
